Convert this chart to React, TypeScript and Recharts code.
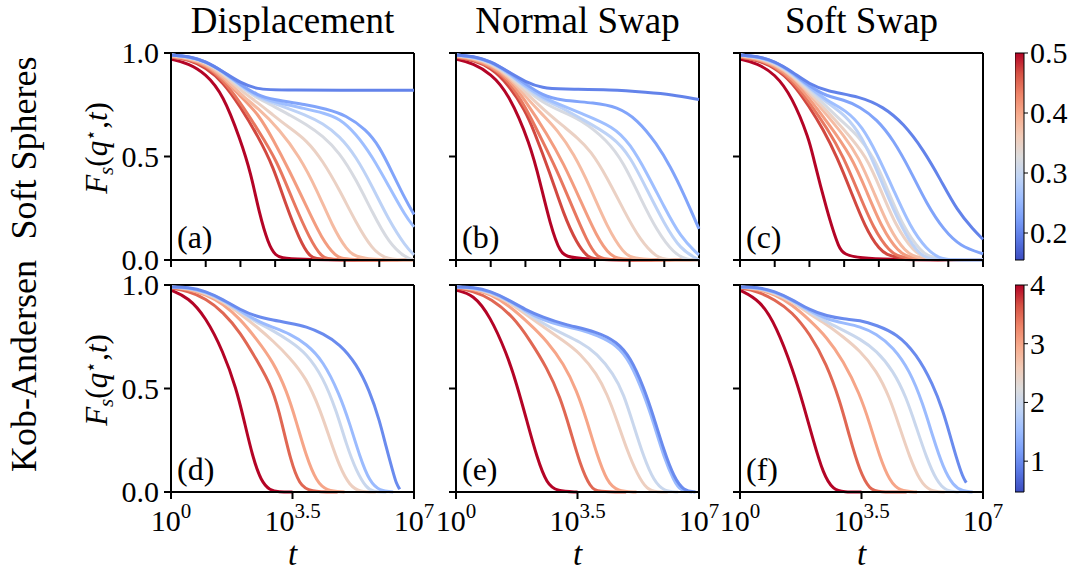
import React from 'react';
import { LineChart, Line, XAxis, YAxis, ReferenceLine, BarChart, Bar } from 'recharts';

type Pt = [number, number];

const FONT = "'Liberation Serif', 'Times New Roman', serif";

const TITLES = ['Displacement', 'Normal Swap', 'Soft Swap'];
const ROW_LABELS = ['Soft Spheres', 'Kob-Andersen'];
const PANEL_TAGS = ['(a)', '(b)', '(c)', '(d)', '(e)', '(f)'];

const TOP_TEMPS = [0.5, 0.47, 0.44, 0.41, 0.38, 0.35, 0.32, 0.29, 0.26, 0.23, 0.2];
const BOTTOM_TEMPS = [4, 3.5, 3, 2.5, 2, 1.5, 1];
const TOP_RANGE: [number, number] = [0.155, 0.5];
const BOTTOM_RANGE: [number, number] = [0.475, 4];
const TOP_CB_TICKS = [0.2, 0.3, 0.4, 0.5];
const BOTTOM_CB_TICKS = [1, 2, 3, 4];
const X_TICKS_TOP = [0, 1, 2, 3, 4, 5, 6, 7];
const X_TICKS_BOTTOM = [0, 3.5, 7];
const Y_TICKS = [0, 0.5, 1];

const COOLWARM = ['#3b4cc0', '#5977e3', '#7b9ff9', '#9ebeff', '#c0d4f5', '#dddcdc', '#f2cbb7', '#f7ac8e', '#ee8468', '#d65244', '#b40426'];

// x = log10(t), y = F_s(q*, t)
const PANEL_A: Pt[][] = [
  [[0, .97], [0.5, .95], [1, .90], [1.5, .80], [2, .58], [2.3, .42], [2.55, .22], [2.8, .08], [3.0, .02], [3.3, 0], [7, 0]],
  [[0, .98], [0.5, .97], [1, .93], [1.5, .86], [2, .74], [2.5, .6], [2.95, .45], [3.3, .27], [3.7, .1], [4, .01], [4.3, 0], [7, 0]],
  [[0, .98], [0.5, .97], [1, .94], [1.5, .87], [2, .76], [2.5, .63], [3.05, .48], [3.5, .29], [4, .1], [4.35, .01], [4.6, 0], [7, 0]],
  [[0, .985], [0.5, .975], [1, .945], [1.5, .88], [2, .79], [2.5, .71], [2.95, .58], [3.4, .435], [3.9, .26], [4.35, .1], [4.75, .016], [5, 0], [7, 0]],
  [[0, .985], [0.5, .975], [1, .95], [1.5, .89], [2, .80], [2.5, .735], [3.13, .63], [3.7, .5], [4.2, .34], [4.66, .16], [5.05, .05], [5.4, 0], [7, 0]],
  [[0, .99], [0.5, .98], [1, .955], [1.5, .90], [2, .82], [2.5, .76], [2.94, .70], [3.4, .64], [3.9, .58], [4.37, .48], [4.85, .34], [5.33, .18], [5.8, .05], [6.2, 0], [7, 0]],
  [[0, .99], [0.5, .98], [1, .958], [1.5, .905], [2, .835], [2.5, .78], [3, .74], [3.42, .70], [3.9, .655], [4.37, .60], [4.85, .52], [5.33, .39], [5.8, .23], [6.28, .08], [6.76, .01], [7, 0]],
  [[0, .99], [0.5, .982], [1, .96], [1.5, .908], [2, .84], [2.5, .785], [3, .755], [3.9, .70], [4.37, .66], [4.85, .60], [5.33, .50], [5.8, .355], [6.28, .19], [6.76, .065], [7, .025]],
  [[0, .99], [0.5, .983], [1, .96], [1.5, .91], [2, .845], [2.5, .79], [2.94, .765], [3.9, .73], [4.4, .71], [4.85, .685], [5.33, .61], [5.8, .5], [6.28, .355], [6.76, .21], [7, .16]],
  [[0, .99], [0.5, .984], [1, .96], [1.5, .91], [2, .848], [2.5, .795], [2.94, .775], [3.9, .75], [4.47, .73], [5.04, .70], [5.62, .63], [6, .55], [6.38, .42], [6.76, .29], [7, .22]],
  [[0, .99], [0.5, .985], [1, .96], [1.5, .91], [2, .855], [2.5, .825], [3, .82], [7, .82]],
];

const PANEL_B: Pt[][] = [
  [[0, .97], [0.5, .95], [1, .90], [1.5, .81], [2.14, .56], [2.43, .37], [2.71, .175], [3, .03], [3.3, 0], [7, 0]],
  [[0, .98], [0.5, .965], [1, .93], [1.5, .85], [2, .72], [2.23, .63], [2.71, .42], [3.1, .22], [3.48, .08], [3.8, .01], [4.1, 0], [7, 0]],
  [[0, .98], [0.5, .97], [1, .935], [1.5, .87], [2, .74], [2.43, .595], [2.91, .434], [3.39, .24], [3.77, .094], [4.06, .01], [4.4, 0], [7, 0]],
  [[0, .985], [0.5, .972], [1, .94], [1.5, .88], [2, .77], [2.62, .61], [3.1, .466], [3.58, .29], [4.06, .11], [4.45, .016], [4.8, 0], [7, 0]],
  [[0, .985], [0.5, .975], [1, .945], [1.5, .89], [2, .79], [2.5, .70], [2.91, .63], [3.39, .515], [3.87, .35], [4.35, .16], [4.83, .03], [5.15, 0], [7, 0]],
  [[0, .99], [0.5, .978], [1, .95], [1.5, .895], [2, .81], [2.5, .73], [3.1, .645], [3.5, .59], [3.87, .53], [4.35, .40], [4.83, .24], [5.31, .094], [5.79, .01], [6.1, 0], [7, 0]],
  [[0, .99], [0.5, .98], [1, .955], [1.5, .90], [2, .825], [2.5, .76], [3, .72], [3.58, .68], [4.35, .58], [4.83, .47], [5.31, .30], [5.79, .14], [6.28, .03], [6.66, 0], [7, 0]],
  [[0, .99], [0.5, .98], [1, .957], [1.5, .903], [2, .835], [2.5, .775], [3, .74], [3.58, .685], [4.54, .595], [5.02, .50], [5.5, .34], [6, .175], [6.47, .05], [6.95, .005], [7, 0]],
  [[0, .99], [0.5, .982], [1, .958], [1.5, .905], [2, .84], [2.5, .785], [3, .75], [3.58, .71], [4.54, .645], [5.02, .56], [5.5, .42], [6, .255], [6.47, .11], [6.95, .03], [7, .025]],
  [[0, .99], [0.5, .984], [1, .96], [1.5, .91], [2, .85], [2.5, .795], [3, .77], [4, .76], [4.64, .74], [5.22, .68], [5.79, .56], [6.18, .45], [6.56, .32], [7, .15]],
  [[0, .99], [0.5, .985], [1, .96], [1.5, .91], [2, .86], [2.5, .83], [3, .825], [4.5, .823], [5.5, .81], [6.2, .80], [7, .775]],
];

const PANEL_C: Pt[][] = [
  [[0, .97], [0.5, .95], [1, .90], [1.5, .79], [2, .58], [2.1, .5], [2.5, .24], [2.85, .05], [3.1, 0], [7, 0]],
  [[0, .98], [0.5, .965], [1, .93], [1.5, .86], [2, .74], [2.4, .63], [2.79, .5], [3.2, .33], [3.6, .16], [4, .05], [4.4, 0], [7, 0]],
  [[0, .98], [0.5, .97], [1, .935], [1.5, .87], [2, .76], [2.5, .64], [2.98, .5], [3.4, .33], [3.85, .15], [4.3, .04], [4.7, 0], [7, 0]],
  [[0, .985], [0.5, .972], [1, .94], [1.5, .88], [2, .78], [2.5, .67], [3.22, .5], [3.65, .33], [4.1, .15], [4.55, .04], [4.95, 0], [7, 0]],
  [[0, .985], [0.5, .975], [1, .945], [1.5, .89], [2, .80], [2.5, .70], [3, .6], [3.41, .5], [3.85, .33], [4.3, .15], [4.75, .04], [5.15, 0], [7, 0]],
  [[0, .99], [0.5, .978], [1, .95], [1.5, .895], [2, .81], [2.5, .72], [3, .63], [3.65, .5], [4.05, .34], [4.5, .16], [5, .04], [5.4, 0], [7, 0]],
  [[0, .99], [0.5, .98], [1, .955], [1.5, .90], [2, .82], [2.5, .74], [3, .66], [3.4, .60], [3.85, .5], [4.25, .34], [4.7, .16], [5.2, .04], [5.6, 0], [7, 0]],
  [[0, .99], [0.5, .98], [1, .957], [1.5, .903], [2, .83], [2.5, .76], [3.04, .70], [3.52, .595], [3.94, .435], [4.42, .24], [4.9, .08], [5.3, .01], [5.6, 0], [7, 0]],
  [[0, .99], [0.5, .982], [1, .958], [1.5, .905], [2, .835], [2.5, .77], [3.04, .725], [3.52, .645], [3.94, .515], [4.42, .34], [4.9, .16], [5.38, .05], [5.77, .005], [6.1, 0], [7, 0]],
  [[0, .99], [0.5, .984], [1, .96], [1.5, .908], [2, .84], [2.5, .79], [2.98, .775], [3.46, .74], [3.94, .68], [4.42, .58], [4.9, .435], [5.38, .27], [5.87, .145], [6.35, .065], [7, .03]],
  [[0, .99], [0.5, .985], [1, .96], [1.5, .91], [2, .85], [2.5, .815], [3.46, .79], [4.13, .74], [4.71, .66], [5.29, .53], [5.77, .39], [6.25, .24], [6.73, .145], [7, .10]],
];

const PANEL_D: Pt[][] = [
  [[0, .975], [0.5, .94], [1, .845], [1.5, .68], [1.88, .5], [2.1, .35], [2.35, .17], [2.6, .05], [2.85, .008], [3.1, 0], [3.5, 0]],
  [[0, .985], [0.5, .97], [1, .935], [1.5, .87], [2, .77], [2.46, .64], [2.94, .5], [3.2, .33], [3.45, .15], [3.7, .035], [4, 0], [4.8, 0]],
  [[0, .99], [0.5, .98], [1, .955], [1.5, .91], [2, .835], [2.46, .74], [2.94, .63], [3.33, .49], [3.61, .34], [3.9, .17], [4.19, .05], [4.48, .005], [5, 0]],
  [[0, .99], [0.5, .985], [1, .96], [1.5, .92], [2, .86], [2.46, .80], [2.94, .73], [3.42, .65], [3.9, .55], [4.29, .40], [4.57, .26], [4.86, .12], [5.15, .03], [5.44, 0], [5.9, 0]],
  [[0, .99], [0.5, .987], [1, .965], [1.5, .925], [2, .87], [2.46, .82], [2.94, .78], [3.42, .73], [3.9, .67], [4.38, .555], [4.77, .39], [5.05, .23], [5.34, .10], [5.63, .02], [5.82, 0], [6.2, 0]],
  [[0, .99], [0.5, .988], [1, .967], [1.5, .928], [2, .875], [2.46, .828], [2.94, .795], [3.42, .765], [3.9, .715], [4.38, .635], [4.86, .47], [5.15, .33], [5.44, .17], [5.72, .05], [6.01, .005], [6.4, 0]],
  [[0, .99], [0.5, .99], [1, .97], [1.5, .93], [2, .88], [2.46, .848], [2.94, .83], [3.42, .815], [3.9, .80], [4.38, .765], [4.86, .715], [5.34, .62], [5.72, .49], [6.01, .345], [6.2, .215], [6.39, .10], [6.49, .04], [6.59, .013]],
];

const PANEL_E: Pt[][] = [
  [[0, .975], [0.5, .955], [0.98, .85], [1.46, .67], [1.75, .52], [2.04, .345], [2.33, .167], [2.62, .037], [2.91, .003], [3.5, 0]],
  [[0, .985], [0.5, .97], [1, .935], [1.66, .846], [2.14, .73], [2.62, .60], [3, .46], [3.29, .30], [3.58, .13], [3.87, .02], [4.1, 0], [4.9, 0]],
  [[0, .99], [0.5, .98], [1, .955], [1.5, .905], [2.14, .81], [2.62, .73], [3.1, .62], [3.48, .49], [3.77, .345], [4.06, .18], [4.35, .05], [4.64, .003], [5.2, 0]],
  [[0, .99], [0.5, .985], [1, .96], [1.5, .92], [2, .86], [2.5, .80], [3.1, .73], [3.58, .67], [4.06, .57], [4.35, .474], [4.64, .345], [4.93, .2], [5.22, .086], [5.5, .01], [5.8, 0], [6.1, 0]],
  [[0, .99], [0.5, .987], [1, .965], [1.5, .925], [2, .87], [2.5, .815], [3, .77], [3.58, .725], [4.06, .67], [4.54, .57], [4.83, .474], [5.12, .32], [5.41, .167], [5.7, .053], [5.99, .003], [6.4, 0]],
  [[0, .99], [0.5, .988], [1, .967], [1.5, .928], [2, .875], [2.5, .83], [3.1, .80], [3.6, .785], [4.06, .757], [4.64, .71], [5.02, .628], [5.41, .474], [5.7, .33], [5.99, .167], [6.28, .053], [6.47, .005], [6.8, 0]],
  [[0, .99], [0.5, .99], [1, .97], [1.5, .93], [2, .88], [2.5, .845], [3.1, .81], [4.06, .775], [4.64, .725], [5.02, .652], [5.41, .506], [5.7, .36], [5.99, .2], [6.28, .07], [6.56, .005], [6.9, 0]],
];

const PANEL_F: Pt[][] = [
  [[0, .975], [0.58, .927], [1.05, .80], [1.53, .587], [1.82, .426], [2.11, .25], [2.4, .086], [2.68, .01], [3, 0], [3.5, 0]],
  [[0, .985], [0.5, .97], [1, .93], [1.5, .87], [2.01, .765], [2.49, .62], [2.88, .44], [3.16, .264], [3.45, .10], [3.74, .01], [4, 0], [4.8, 0]],
  [[0, .99], [0.5, .98], [1, .955], [1.5, .905], [2.01, .83], [2.49, .75], [2.97, .636], [3.45, .474], [3.74, .33], [4.03, .167], [4.31, .053], [4.6, .003], [5.1, 0]],
  [[0, .99], [0.5, .985], [1, .96], [1.5, .92], [2, .86], [2.5, .81], [2.97, .75], [3.45, .684], [3.93, .587], [4.31, .458], [4.6, .312], [4.89, .167], [5.18, .053], [5.47, .003], [5.9, 0]],
  [[0, .99], [0.5, .987], [1, .965], [1.5, .925], [2, .87], [2.5, .82], [3, .78], [3.45, .74], [3.93, .684], [4.41, .587], [4.79, .458], [5.08, .312], [5.37, .167], [5.66, .053], [5.94, .003], [6.3, 0]],
  [[0, .99], [0.5, .988], [1, .967], [1.5, .928], [2, .875], [2.5, .835], [3, .815], [3.45, .80], [3.93, .765], [4.41, .70], [4.89, .587], [5.27, .426], [5.56, .264], [5.85, .118], [6.14, .03], [6.42, .003], [6.7, 0]],
  [[0, .99], [0.5, .99], [1, .97], [1.5, .93], [2, .88], [2.5, .85], [3, .835], [3.45, .83], [3.93, .806], [4.51, .765], [5.08, .668], [5.56, .52], [5.85, .39], [6.04, .28], [6.23, .167], [6.42, .07], [6.52, .045]],
];

// ---------- helpers ----------
function hexToRgb(h: string) {
  const n = parseInt(h.slice(1), 16);
  return [(n >> 16) & 255, (n >> 8) & 255, n & 255];
}
function coolwarm(t: number) {
  const c = Math.max(0, Math.min(1, t)) * (COOLWARM.length - 1);
  const i = Math.min(COOLWARM.length - 2, Math.floor(c));
  const f = c - i;
  const a = hexToRgb(COOLWARM[i]);
  const b = hexToRgb(COOLWARM[i + 1]);
  const m = a.map((v, k) => Math.round(v + (b[k] - v) * f));
  return `rgb(${m[0]},${m[1]},${m[2]})`;
}

const PLOT_LEFTS = [171, 456, 740];
const PLOT_TOPS = [53, 285];
const PW = 243;
const PH = 207;
const ML = 80;
const MT = 24;
const MR = 30;
const XH = 70;

const AXIS_STYLE = { stroke: '#000', strokeWidth: 2 };

const YTick = (show: boolean) => (props: any) => {
  const { x, y, payload } = props;
  if (!show) return <g />;
  return (
    <text x={x} y={y + 10} textAnchor="end" fontFamily={FONT} fontSize={30} fill="#000">
      {Number(payload.value).toFixed(1)}
    </text>
  );
};

const XTickPow = (props: any) => {
  const { x, y, payload } = props;
  return (
    <text x={x} y={y + 29} textAnchor="middle" fontFamily={FONT} fontSize={30} fill="#000">
      <tspan>10</tspan>
      <tspan dy={-13} fontSize={21}>{String(payload.value)}</tspan>
    </text>
  );
};

const EmptyTick = () => <g />;

function Panel({ col, row, curves }: { col: number; row: number; curves: Pt[][] }) {
  const temps = row === 0 ? TOP_TEMPS : BOTTOM_TEMPS;
  const range = row === 0 ? TOP_RANGE : BOTTOM_RANGE;
  const left = PLOT_LEFTS[col];
  const top = PLOT_TOPS[row];
  return (
    <div style={{ position: 'absolute', left: left - ML, top: top - MT }}>
      <LineChart width={ML + PW + MR} height={MT + PH + XH} margin={{ top: MT, right: MR, left: 0, bottom: 0 }}>
        <XAxis
          xAxisId="b"
          type="number"
          dataKey="x"
          domain={[0, 7]}
          ticks={row === 0 ? X_TICKS_TOP : X_TICKS_BOTTOM}
          height={XH}
          tickSize={7}
          tickMargin={3}
          axisLine={AXIS_STYLE}
          tickLine={AXIS_STYLE}
          tick={row === 0 ? EmptyTick : XTickPow}
          interval={0}
        />
        <YAxis
          yAxisId="l"
          type="number"
          domain={[0, 1]}
          ticks={Y_TICKS}
          width={ML}
          tickSize={7}
          tickMargin={5}
          axisLine={AXIS_STYLE}
          tickLine={AXIS_STYLE}
          tick={YTick(col === 0)}
          interval={0}
        />
        <ReferenceLine xAxisId="b" yAxisId="l" x={7} stroke="#000" strokeWidth={2} />
        <ReferenceLine xAxisId="b" yAxisId="l" y={1} stroke="#000" strokeWidth={2} />
        {curves.map((c, i) => (
          <Line
            key={i}
            xAxisId="b"
            yAxisId="l"
            data={c.map(([x, y]) => ({ x, y }))}
            dataKey="y"
            type="basis"
            dot={false}
            stroke={coolwarm((temps[i] - range[0]) / (range[1] - range[0]))}
            strokeWidth={3}
            isAnimationActive={false}
          />
        ))}
      </LineChart>
    </div>
  );
}

function ColorBar({ row }: { row: number }) {
  const range = row === 0 ? TOP_RANGE : BOTTOM_RANGE;
  const ticks = row === 0 ? TOP_CB_TICKS : BOTTOM_CB_TICKS;
  const id = `cw${row}`;
  const top = PLOT_TOPS[row];
  const CBW = 9;
  return (
    <div style={{ position: 'absolute', left: 1015, top: top - MT }}>
      <BarChart
        width={CBW + 68}
        height={PH + 2 * MT}
        data={[{ n: 'c', v: range }]}
        margin={{ top: MT, right: 0, left: 0, bottom: MT }}
        barCategoryGap={0}
        barGap={0}
      >
        <defs>
          <linearGradient id={id} x1="0" y1="1" x2="0" y2="0">
            {COOLWARM.map((c, i) => (
              <stop key={i} offset={i / (COOLWARM.length - 1)} stopColor={c} />
            ))}
          </linearGradient>
        </defs>
        <XAxis dataKey="n" hide />
        <YAxis
          orientation="right"
          type="number"
          domain={range}
          ticks={ticks}
          width={68}
          tickSize={4}
          tickMargin={2}
          axisLine={false}
          tickLine={{ stroke: '#000', strokeWidth: 1 }}
          interval={0}
          tick={(p: any) => (
            <text x={p.x} y={p.y + 10} textAnchor="start" fontFamily={FONT} fontSize={30} fill="#000">
              {row === 0 ? Number(p.payload.value).toFixed(1) : String(p.payload.value)}
            </text>
          )}
        />
        <Bar dataKey="v" fill={`url(#${id})`} stroke="#000" strokeWidth={1} isAnimationActive={false} />
      </BarChart>
    </div>
  );
}

function Txt({ x, y, size, children, italic, anchor = 'middle' }: any) {
  const w = 400;
  const leftPos = anchor === 'middle' ? x - w / 2 : x;
  return (
    <div
      style={{
        position: 'absolute',
        left: leftPos,
        top: y - 0.8375 * size,
        width: w,
        textAlign: anchor === 'middle' ? 'center' : 'left',
        fontFamily: FONT,
        fontSize: size,
        lineHeight: 1,
        fontStyle: italic ? 'italic' : 'normal',
        whiteSpace: 'nowrap',
        color: '#000',
      }}
    >
      {children}
    </div>
  );
}

function Rot({ x, y, size, children }: any) {
  return (
    <div
      style={{
        position: 'absolute',
        left: x,
        top: y,
        transform: 'translate(-50%, -50%) rotate(-90deg)',
        fontFamily: FONT,
        fontSize: size,
        lineHeight: 1,
        whiteSpace: 'nowrap',
        color: '#000',
      }}
    >
      {children}
    </div>
  );
}

function FsLabel() {
  return (
    <span>
      <i>F</i>
      <i style={{ fontSize: '0.68em', position: 'relative', top: '0.3em' }}>s</i>(<i>q</i>
      <span style={{ fontSize: '0.6em', position: 'relative', top: '-0.55em' }}>⋆</span>,<i>t</i>)
    </span>
  );
}

export default function App() {
  const panels = [PANEL_A, PANEL_B, PANEL_C, PANEL_D, PANEL_E, PANEL_F];
  return (
    <div style={{ position: 'absolute', left: 0, top: 0, width: 1083, height: 576, background: '#fff', overflow: 'hidden' }}>
      {panels.map((p, i) => (
        <Panel key={i} col={i % 3} row={Math.floor(i / 3)} curves={p} />
      ))}
      <ColorBar row={0} />
      <ColorBar row={1} />
      {TITLES.map((t, i) => (
        <Txt key={t} x={PLOT_LEFTS[i] + PW / 2} y={33} size={37}>{t}</Txt>
      ))}
      {PLOT_LEFTS.map((l, i) => (
        <Txt key={'t' + i} x={l + PW / 2} y={566} size={33} italic>t</Txt>
      ))}
      {PANEL_TAGS.map((t, i) => (
        <Txt key={t} x={PLOT_LEFTS[i % 3] + 6} y={PLOT_TOPS[Math.floor(i / 3)] + PH - 12} size={32} anchor="start">{t}</Txt>
      ))}
      <Rot x={24} y={148} size={36}>{ROW_LABELS[0]}</Rot>
      <Rot x={24} y={366} size={36}>{ROW_LABELS[1]}</Rot>
      <Rot x={96} y={148} size={31}><FsLabel /></Rot>
      <Rot x={96} y={380} size={31}><FsLabel /></Rot>
    </div>
  );
}
